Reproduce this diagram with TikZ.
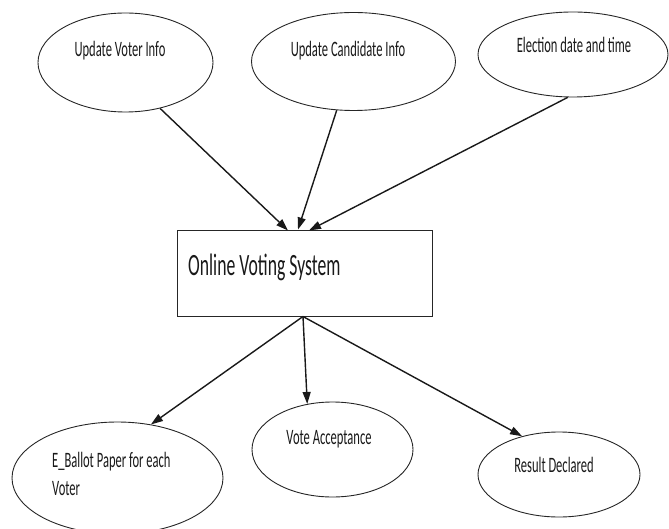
\documentclass[tikz,border=0pt]{standalone}
\usepackage{fontspec}
\setmainfont{Carlito}
\usetikzlibrary{shapes.geometric,arrows.meta}
\newcommand\sqz[1]{\scalebox{0.57}[1]{#1}}
\tikzset{
  oval/.style={ellipse, draw=black!85, line width=0.9pt, inner sep=0pt},
  sysbox/.style={rectangle, draw=black!85, line width=1pt, inner sep=0pt},
  lbl/.style={inner sep=0pt, font=\fontsize{22}{22}\selectfont, text=black!90},
  mainlbl/.style={inner sep=0pt, font=\fontsize{31}{31}\selectfont, text=black!90},
  flow/.style={draw=black!90, line width=1.4pt, -{Triangle[length=12pt,width=8pt]}}
}
\begin{document}
\begin{tikzpicture}[x=1pt,y=-1pt]
\useasboundingbox (0,0) rectangle (669,529);
\clip (0,0) rectangle (669,529);
% ellipses
\node[oval, minimum width=175pt, minimum height=99pt] (e1) at (125.5,62.5) {};
\node[oval, minimum width=204pt, minimum height=98pt] (e2) at (353.5,61.5) {};
\node[oval, minimum width=190pt, minimum height=85pt] (e3) at (573,54.5) {};
\node[sysbox, minimum width=255pt, minimum height=85pt] (sys) at (304.5,273.5) {};
\node[oval, minimum width=211pt, minimum height=112pt] (e4) at (117.5,478) {};
\node[oval, minimum width=161pt, minimum height=95pt] (e5) at (332.5,449.5) {};
\node[oval, minimum width=162pt, minimum height=85pt] (e6) at (559,474.5) {};
% labels
\node[lbl, anchor=base] (t1) at (120,57) {\sqz{Update Voter Info}};
\node[lbl, anchor=base] (t2) at (348,57) {\sqz{Update Candidate Info}};
\node[lbl, anchor=base] (t3) at (574,53) {\sqz{Election date and time}};
\node[mainlbl, anchor=base west] (ts) at (188,276) {\sqz{Online Voting System}};
\node[lbl, anchor=base west] (t4a) at (52,467) {\sqz{E\_Ballot Paper for each}};
\node[lbl, anchor=base west] (t4b) at (52,495) {\sqz{Voter}};
\node[lbl, anchor=base] (t5) at (329,444) {\sqz{Vote Acceptance}};
\node[lbl, anchor=base] (t6) at (554,472) {\sqz{Result Declared}};
% connectors
\draw[flow] (e1.-53) -- ([xshift=-16.5pt]sys.north);
\draw[flow] (e2.-109) -- ([xshift=-6.5pt,yshift=1pt]sys.north);
\draw[flow] (e3.-97) -- ([xshift=4.5pt]sys.north);
\coordinate (sb) at ([xshift=-1.5pt]sys.south);
\draw[flow] (sb) -- (e4.58);
\draw[flow] (sb) -- (e5.119);
\draw[flow] (sb) -- (e6.134);
\end{tikzpicture}
\end{document}
